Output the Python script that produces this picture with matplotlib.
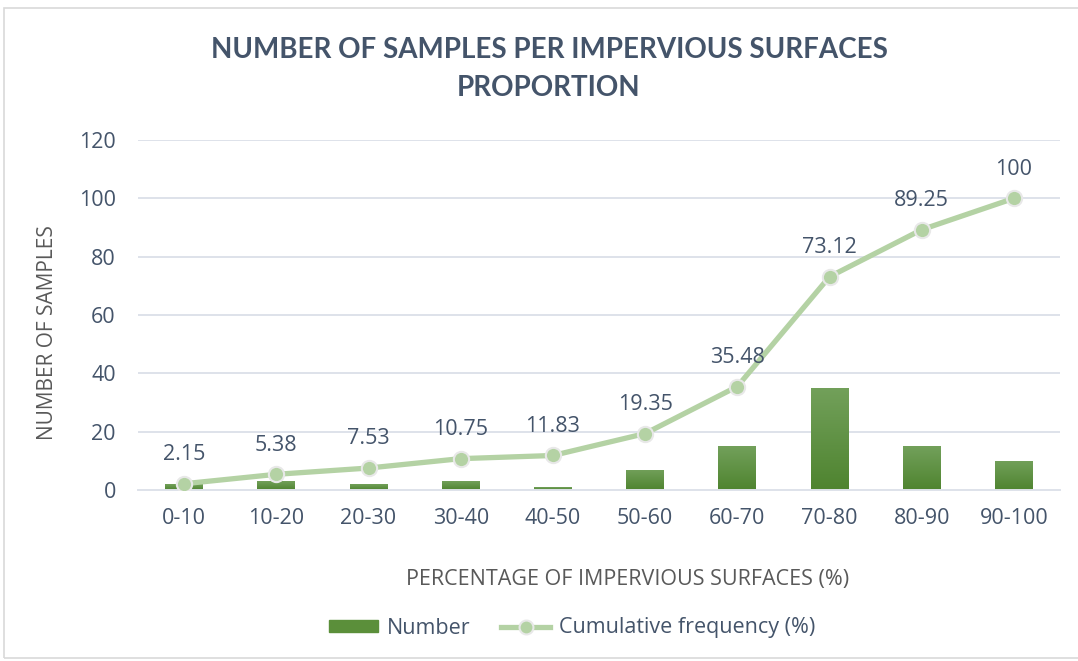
import matplotlib.pyplot as plt
import numpy as np
from matplotlib.patches import Rectangle
from matplotlib.lines import Line2D
from matplotlib.colors import LinearSegmentedColormap

categories = ['0-10', '10-20', '20-30', '30-40', '40-50', '50-60', '60-70', '70-80', '80-90', '90-100']
number = [2, 3, 2, 3, 1, 7, 15, 35, 15, 10]
cumulative = [2.15, 5.38, 7.53, 10.75, 11.83, 19.35, 35.48, 73.12, 89.25, 100]
yticks = [0, 20, 40, 60, 80, 100, 120]

title_col = '#44546A'
tick_col = '#44546A'
axis_title_col = '#595959'
bar_col = '#5B8F3A'
line_col = '#B4D2A4'
grid_col = '#DEE2EA'

plt.rcParams['font.family'] = ['Open Sans', 'DejaVu Sans']

fig = plt.figure(figsize=(10.78, 6.61), dpi=100)
ax = fig.add_axes([138/1078, 1-490/661, (1060-138)/1078, (490-140)/661])

# chart border
fig.patches.append(Rectangle((4/1078, 1-658/661), 1.1, 650/661, transform=fig.transFigure,
                             fill=False, edgecolor='#D9D9D9', linewidth=1.2))

x = np.arange(len(categories))
bars = ax.bar(x, number, width=0.41, color=bar_col, zorder=2)

# vertical gradient on the bars, like the spreadsheet fill
grad = LinearSegmentedColormap.from_list('g', ['#4F8430', '#72A05A'])
for b in bars:
    bx, by = b.get_x(), b.get_y()
    w, h = b.get_width(), b.get_height()
    im = ax.imshow(np.linspace(0, 1, 50).reshape(-1, 1), cmap=grad, origin='lower',
                   extent=[bx, bx + w, by, by + h], aspect='auto', zorder=2)
    im.set_clip_path(b)

ax.plot(x, cumulative, color=line_col, linewidth=3.8, marker='o', markersize=11,
        markerfacecolor=line_col, markeredgecolor='#E8E8E8', markeredgewidth=1.5, zorder=3)

for xi, v in zip(x, cumulative):
    ax.annotate(f'{v:g}', (xi, v), xytext=(0, 21), textcoords='offset points',
                ha='center', va='center', fontsize=15.5, color=tick_col)

ax.set_xlim(-0.5, len(categories) - 0.5)
ax.set_ylim(0, 120)
ax.set_yticks(yticks)
ax.set_xticks(x)
ax.set_xticklabels(categories)
ax.tick_params(axis='both', length=0, labelsize=15.5, colors=tick_col)
ax.tick_params(axis='y', pad=16)
ax.tick_params(axis='x', pad=13)
ax.grid(axis='y', color=grid_col, linewidth=1.4, zorder=0)
ax.set_axisbelow(True)
for s in ['top', 'right', 'left']:
    ax.spines[s].set_visible(False)
ax.spines['bottom'].set_color(grid_col)
ax.spines['bottom'].set_linewidth(1.4)

fig.text(48/1078, 1-333/661, 'NUMBER OF SAMPLES', rotation=90, ha='center', va='center',
         fontsize=15, color=axis_title_col)
fig.text(628/1078, 1-580/661, 'PERCENTAGE OF IMPERVIOUS SURFACES (%)', ha='center', va='center',
         fontsize=15.5, color=axis_title_col)

fig.text(549/1078, 1-50/661, 'NUMBER OF SAMPLES PER IMPERVIOUS SURFACES', ha='center', va='center',
         fontsize=20, fontweight='bold', color=title_col, family=['Lato', 'DejaVu Sans'])
fig.text(549/1078, 1-88/661, 'PROPORTION', ha='center', va='center',
         fontsize=20, fontweight='bold', color=title_col, family=['Lato', 'DejaVu Sans'])

handles = [Rectangle((0, 0), 1, 1, color=bar_col),
           Line2D([], [], color=line_col, linewidth=3.8, marker='o', markersize=10,
                  markerfacecolor=line_col, markeredgecolor='#E8E8E8', markeredgewidth=1.5)]
fig.legend(handles, ['Number', 'Cumulative frequency (%)'], loc='center', ncol=2,
           bbox_to_anchor=(572/1078, 1-628/661), frameon=False, fontsize=15.5,
           labelcolor=tick_col, handlelength=2.3, handleheight=0.5, columnspacing=1.4,
           handletextpad=0.4)

fig.savefig('out.png', dpi=100)
